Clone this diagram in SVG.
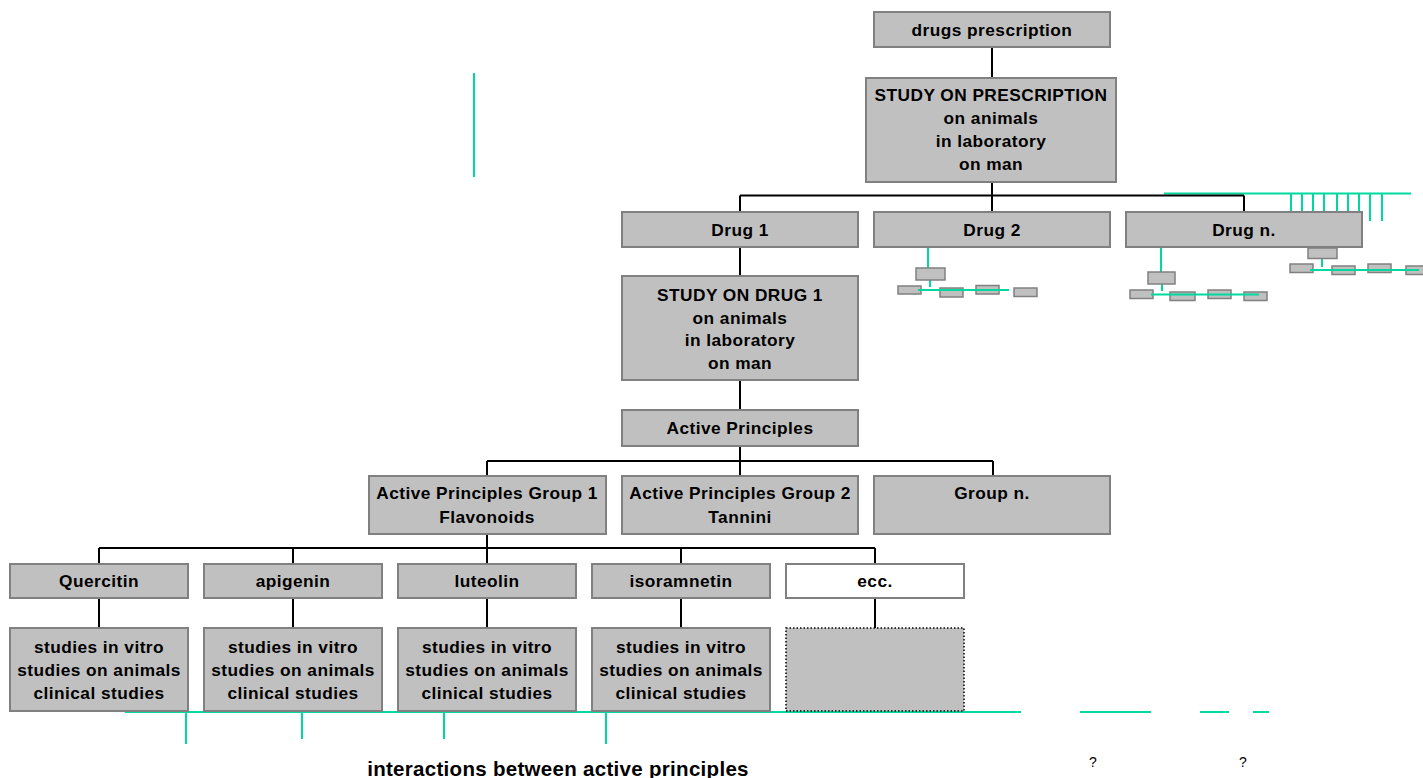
<svg xmlns="http://www.w3.org/2000/svg" width="1423" height="778" viewBox="0 0 1423 778">
<style>
.box{fill:#c0c0c0;stroke:#808080;stroke-width:2}
.wbox{fill:#ffffff;stroke:#808080;stroke-width:2}
.dbox{fill:#c0c0c0;stroke:#000;stroke-width:1.5;stroke-dasharray:1.5 2}
.sbox{fill:#c0c0c0;stroke:#808080;stroke-width:1.5}
.ln{stroke:#000;stroke-width:2;fill:none}
.tl{stroke:#00d8a0;stroke-width:2;fill:none}
.t{font-family:"Liberation Sans",Arial,sans-serif;font-weight:bold;font-size:17.3px;letter-spacing:0.45px;text-anchor:middle;fill:#000}
.big{font-size:20.5px;letter-spacing:0.3px}
.q{font-family:"Liberation Sans",Arial,sans-serif;font-size:14px;text-anchor:middle;fill:#000}
</style>
<rect width="1423" height="778" fill="#fff"/>
<g id="decor-teal">
<line class="tl" x1="474" y1="73" x2="474" y2="177"/>
<line class="tl" x1="1164" y1="193.5" x2="1411" y2="193.5"/>
<path class="tl" d="M1291 193.5V212M1302 193.5V212M1313 193.5V212M1324 193.5V212M1337 193.5V212M1348 193.5V212M1359 193.5V212M1370 193.5V221M1382 193.5V221"/>
<line class="tl" x1="125" y1="712" x2="1021" y2="712"/>
<path class="tl" d="M186 712V744M302 712V739M444 712V739M606 712V744"/>
<path class="tl" d="M1080 712H1151M1200 712H1229M1253 712H1269"/>
</g>
<g id="connectors">
<path class="ln" d="M992 47V78M992 182V195.5M740 195.5H1244M740 195.5V212M992 195.5V212M1244 195.5V212"/>
<path class="ln" d="M740 247V276M740 380V410M740 446V461M487 461H993M487 461V476M740 461V476M993 461V476"/>
<path class="ln" d="M487 534V548M99 548H875M99 548V564M293 548V564M487 548V564M681 548V564M875 548V564"/>
<path class="ln" d="M99 598V628M293 598V628M487 598V628M681 598V628M875 598V628"/>
</g>
<g id="mini-drug2">
<path class="tl" d="M928 247V268M930 280V287"/>
<rect class="sbox" x="916" y="268" width="29" height="12"/>
<rect class="sbox" x="898" y="286" width="23" height="8"/>
<rect class="sbox" x="940" y="288" width="23" height="9"/>
<rect class="sbox" x="976" y="285.5" width="23" height="8.5"/>
<rect class="sbox" x="1014" y="288" width="23" height="8.5"/>
<path class="tl" d="M918 290H1009"/>
</g>
<g id="mini-drugn-1">
<path class="tl" d="M1161 247V272M1162 284V291"/>
<rect class="sbox" x="1148" y="272" width="27" height="12"/>
<rect class="sbox" x="1130" y="290" width="23" height="8.5"/>
<rect class="sbox" x="1170" y="292" width="25" height="8.5"/>
<rect class="sbox" x="1208" y="290" width="23" height="8.5"/>
<rect class="sbox" x="1244" y="292" width="23" height="8.5"/>
<path class="tl" d="M1151 294.5H1259"/>
</g>
<g id="mini-drugn-2">
<path class="tl" d="M1322 258V267"/>
<rect class="sbox" x="1308" y="248" width="29" height="10.5"/>
<rect class="sbox" x="1290" y="264" width="23" height="8.5"/>
<rect class="sbox" x="1332" y="266" width="23" height="8.5"/>
<rect class="sbox" x="1368" y="264" width="23" height="8.5"/>
<rect class="sbox" x="1406" y="266" width="23" height="8.5"/>
<path class="tl" d="M1310 270H1419"/>
</g>
<g id="n-drugs-prescription"><rect class="box" x="874" y="12" width="236" height="35"/><text class="t" x="992" y="35.5">drugs prescription</text></g>
<g id="n-study-prescription"><rect class="box" x="866" y="78" width="250" height="104"/>
<text class="t" x="991" y="100.5">STUDY ON PRESCRIPTION</text><text class="t" x="991" y="123.5">on animals</text><text class="t" x="991" y="146.5">in laboratory</text><text class="t" x="991" y="169.5">on man</text></g>
<g id="n-drug1"><rect class="box" x="622" y="212" width="236" height="35"/><text class="t" x="740" y="235.5">Drug 1</text></g>
<g id="n-drug2"><rect class="box" x="874" y="212" width="236" height="35"/><text class="t" x="992" y="235.5">Drug 2</text></g>
<g id="n-drugn"><rect class="box" x="1126" y="212" width="236" height="35"/><text class="t" x="1244" y="235.5">Drug n.</text></g>
<g id="n-study-drug1"><rect class="box" x="622" y="276" width="236" height="104"/>
<text class="t" x="740" y="301">STUDY ON DRUG 1</text><text class="t" x="740" y="323.5">on animals</text><text class="t" x="740" y="346">in laboratory</text><text class="t" x="740" y="368.5">on man</text></g>
<g id="n-active-principles"><rect class="box" x="622" y="410" width="236" height="36"/><text class="t" x="740" y="434">Active Principles</text></g>
<g id="n-group1"><rect class="box" x="369" y="476" width="237" height="58"/><text class="t" x="487" y="499">Active Principles Group 1</text><text class="t" x="487" y="523">Flavonoids</text></g>
<g id="n-group2"><rect class="box" x="622" y="476" width="236" height="58"/><text class="t" x="740" y="499">Active Principles Group 2</text><text class="t" x="740" y="523">Tannini</text></g>
<g id="n-groupn"><rect class="box" x="874" y="476" width="236" height="58"/><text class="t" x="992" y="499">Group n.</text></g>
<g id="n-quercitin"><rect class="box" x="10" y="564" width="178" height="34"/><text class="t" x="99" y="587">Quercitin</text></g>
<g id="n-apigenin"><rect class="box" x="204" y="564" width="178" height="34"/><text class="t" x="293" y="587">apigenin</text></g>
<g id="n-luteolin"><rect class="box" x="398" y="564" width="178" height="34"/><text class="t" x="487" y="587">luteolin</text></g>
<g id="n-isoramnetin"><rect class="box" x="592" y="564" width="178" height="34"/><text class="t" x="681" y="587">isoramnetin</text></g>
<g id="n-ecc"><rect class="wbox" x="786" y="564" width="178" height="34"/><text class="t" x="875" y="587">ecc.</text></g>
<g id="n-studies-quercitin"><rect class="box" x="10" y="628" width="178" height="83"/><text class="t" x="99" y="653">studies in vitro</text><text class="t" x="99" y="676">studies on animals</text><text class="t" x="99" y="699">clinical studies</text></g>
<g id="n-studies-apigenin"><rect class="box" x="204" y="628" width="178" height="83"/><text class="t" x="293" y="653">studies in vitro</text><text class="t" x="293" y="676">studies on animals</text><text class="t" x="293" y="699">clinical studies</text></g>
<g id="n-studies-luteolin"><rect class="box" x="398" y="628" width="178" height="83"/><text class="t" x="487" y="653">studies in vitro</text><text class="t" x="487" y="676">studies on animals</text><text class="t" x="487" y="699">clinical studies</text></g>
<g id="n-studies-isoramnetin"><rect class="box" x="592" y="628" width="178" height="83"/><text class="t" x="681" y="653">studies in vitro</text><text class="t" x="681" y="676">studies on animals</text><text class="t" x="681" y="699">clinical studies</text></g>
<g id="n-studies-ecc"><rect class="dbox" x="786" y="628" width="178" height="83"/></g>
<g id="labels">
<text class="t big" x="558" y="776">interactions between active principles</text>
<text class="q" x="1093" y="767">?</text>
<text class="q" x="1243" y="767">?</text>
</g>
</svg>
